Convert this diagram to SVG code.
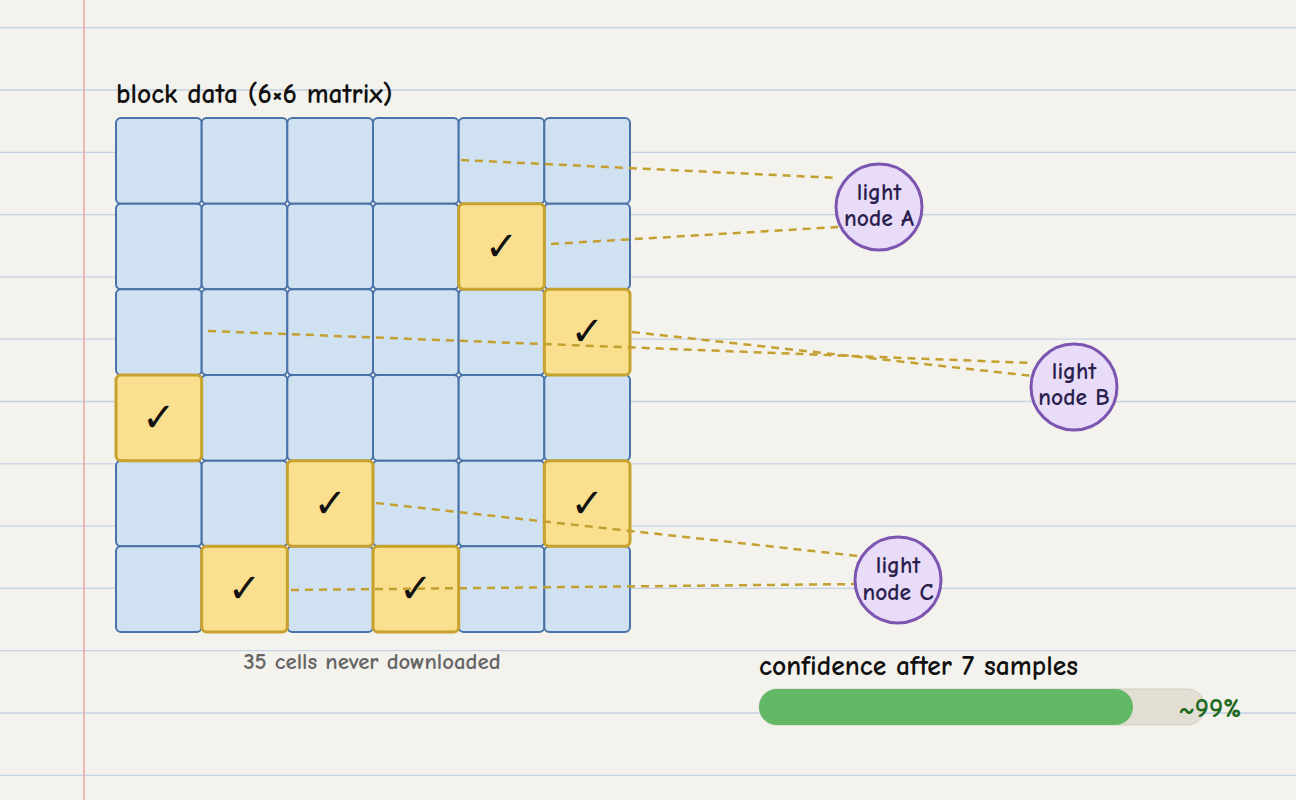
<svg xmlns="http://www.w3.org/2000/svg" width="1296" height="800" viewBox="0 0 1296 800">
<defs>
<style>
.t{font-family:"Comic Sans MS","Comic Neue","Noto Sans",sans-serif;font-weight:700}
.rule{stroke:#c3d2e4;stroke-width:1.3}
.cell{fill:#d0e1f1;stroke:#4a72a8;stroke-width:2}
.hit{fill:#f9df8e;stroke:#c8a22e;stroke-width:3}
.chk{font-family:"DejaVu Sans",sans-serif;font-size:40px;fill:#111;text-anchor:middle}
.conn{stroke:#c4a030;stroke-width:2.5;stroke-dasharray:8 6;fill:none}
.node{fill:#e8dcf8;stroke:#7b55b0;stroke-width:3}
.nt{font-size:23.5px;fill:#2b1f4e;text-anchor:middle}
</style>
</defs>
<rect width="1296" height="800" fill="#f4f2ec"/>
<g id="paper">
<line class="rule" x1="0" y1="27.7" x2="1296" y2="27.7"/>
<line class="rule" x1="0" y1="90" x2="1296" y2="90"/>
<line class="rule" x1="0" y1="152.3" x2="1296" y2="152.3"/>
<line class="rule" x1="0" y1="214.6" x2="1296" y2="214.6"/>
<line class="rule" x1="0" y1="276.9" x2="1296" y2="276.9"/>
<line class="rule" x1="0" y1="339.2" x2="1296" y2="339.2"/>
<line class="rule" x1="0" y1="401.5" x2="1296" y2="401.5"/>
<line class="rule" x1="0" y1="463.8" x2="1296" y2="463.8"/>
<line class="rule" x1="0" y1="526.1" x2="1296" y2="526.1"/>
<line class="rule" x1="0" y1="588.4" x2="1296" y2="588.4"/>
<line class="rule" x1="0" y1="650.7" x2="1296" y2="650.7"/>
<line class="rule" x1="0" y1="713" x2="1296" y2="713"/>
<line class="rule" x1="0" y1="775.3" x2="1296" y2="775.3"/>
<line x1="84" y1="0" x2="84" y2="800" stroke="#e8a4a4" stroke-width="1.5"/>
</g>
<text class="t" x="116" y="103" font-size="27.5" fill="#111">block data (6×6 matrix)</text>
<g id="matrix">
<rect class="cell" x="116" y="118" width="85.67" height="85.67" rx="5"/>
<rect class="cell" x="201.67" y="118" width="85.67" height="85.67" rx="5"/>
<rect class="cell" x="287.33" y="118" width="85.67" height="85.67" rx="5"/>
<rect class="cell" x="373" y="118" width="85.67" height="85.67" rx="5"/>
<rect class="cell" x="458.67" y="118" width="85.67" height="85.67" rx="5"/>
<rect class="cell" x="544.33" y="118" width="85.67" height="85.67" rx="5"/>
<rect class="cell" x="116" y="203.67" width="85.67" height="85.67" rx="5"/>
<rect class="cell" x="201.67" y="203.67" width="85.67" height="85.67" rx="5"/>
<rect class="cell" x="287.33" y="203.67" width="85.67" height="85.67" rx="5"/>
<rect class="cell" x="373" y="203.67" width="85.67" height="85.67" rx="5"/>
<rect class="cell" x="544.33" y="203.67" width="85.67" height="85.67" rx="5"/>
<rect class="cell" x="116" y="289.33" width="85.67" height="85.67" rx="5"/>
<rect class="cell" x="201.67" y="289.33" width="85.67" height="85.67" rx="5"/>
<rect class="cell" x="287.33" y="289.33" width="85.67" height="85.67" rx="5"/>
<rect class="cell" x="373" y="289.33" width="85.67" height="85.67" rx="5"/>
<rect class="cell" x="458.67" y="289.33" width="85.67" height="85.67" rx="5"/>
<rect class="cell" x="201.67" y="375" width="85.67" height="85.67" rx="5"/>
<rect class="cell" x="287.33" y="375" width="85.67" height="85.67" rx="5"/>
<rect class="cell" x="373" y="375" width="85.67" height="85.67" rx="5"/>
<rect class="cell" x="458.67" y="375" width="85.67" height="85.67" rx="5"/>
<rect class="cell" x="544.33" y="375" width="85.67" height="85.67" rx="5"/>
<rect class="cell" x="116" y="460.67" width="85.67" height="85.67" rx="5"/>
<rect class="cell" x="201.67" y="460.67" width="85.67" height="85.67" rx="5"/>
<rect class="cell" x="373" y="460.67" width="85.67" height="85.67" rx="5"/>
<rect class="cell" x="458.67" y="460.67" width="85.67" height="85.67" rx="5"/>
<rect class="cell" x="116" y="546.33" width="85.67" height="85.67" rx="5"/>
<rect class="cell" x="287.33" y="546.33" width="85.67" height="85.67" rx="5"/>
<rect class="cell" x="458.67" y="546.33" width="85.67" height="85.67" rx="5"/>
<rect class="cell" x="544.33" y="546.33" width="85.67" height="85.67" rx="5"/>
<g id="samples">
<rect class="hit" x="458.67" y="203.67" width="85.67" height="85.67" rx="5"/>
<rect class="hit" x="544.33" y="289.33" width="85.67" height="85.67" rx="5"/>
<rect class="hit" x="116" y="375" width="85.67" height="85.67" rx="5"/>
<rect class="hit" x="287.33" y="460.67" width="85.67" height="85.67" rx="5"/>
<rect class="hit" x="544.33" y="460.67" width="85.67" height="85.67" rx="5"/>
<rect class="hit" x="201.67" y="546.33" width="85.67" height="85.67" rx="5"/>
<rect class="hit" x="373" y="546.33" width="85.67" height="85.67" rx="5"/>
<text class="chk" x="501.5" y="260">✓</text>
<text class="chk" x="587.2" y="345">✓</text>
<text class="chk" x="158.8" y="431">✓</text>
<text class="chk" x="330.2" y="517">✓</text>
<text class="chk" x="587.2" y="517">✓</text>
<text class="chk" x="244.5" y="602">✓</text>
<text class="chk" x="415.8" y="602">✓</text>
</g>
</g>
<g id="connectors">
<line class="conn" x1="461" y1="160" x2="838" y2="178"/>
<line class="conn" x1="551" y1="244" x2="838" y2="227"/>
<line class="conn" x1="208" y1="331" x2="1033" y2="363"/>
<line class="conn" x1="632" y1="332" x2="1033" y2="376"/>
<line class="conn" x1="376" y1="503" x2="858" y2="556"/>
<line class="conn" x1="291" y1="590" x2="858" y2="584"/>
</g>
<g id="nodeA">
<circle class="node" cx="879" cy="207" r="43"/>
<text class="t nt" x="879" y="200">light</text>
<text class="t nt" x="879" y="226">node A</text>
</g>
<g id="nodeB">
<circle class="node" cx="1074" cy="387" r="43"/>
<text class="t nt" x="1074" y="379">light</text>
<text class="t nt" x="1074" y="405">node B</text>
</g>
<g id="nodeC">
<circle class="node" cx="898" cy="580" r="43"/>
<text class="t nt" x="898" y="573">light</text>
<text class="t nt" x="898" y="600">node C</text>
</g>
<text class="t" x="372" y="669" font-size="22.8" fill="#666" font-weight="400" text-anchor="middle">35 cells never downloaded</text>
<g id="confidence">
<text class="t" x="759" y="675" font-size="27.6" fill="#111">confidence after 7 samples</text>
<rect x="759" y="689" width="446" height="36" rx="18" fill="#e2ded3" stroke="#d2cec2" stroke-width="1"/>
<rect x="759" y="689" width="374" height="36" rx="18" fill="#63b866"/>
<text class="t" x="1210" y="717" font-size="27" fill="#1e6a1e" text-anchor="middle">~99%</text>
</g>
</svg>
